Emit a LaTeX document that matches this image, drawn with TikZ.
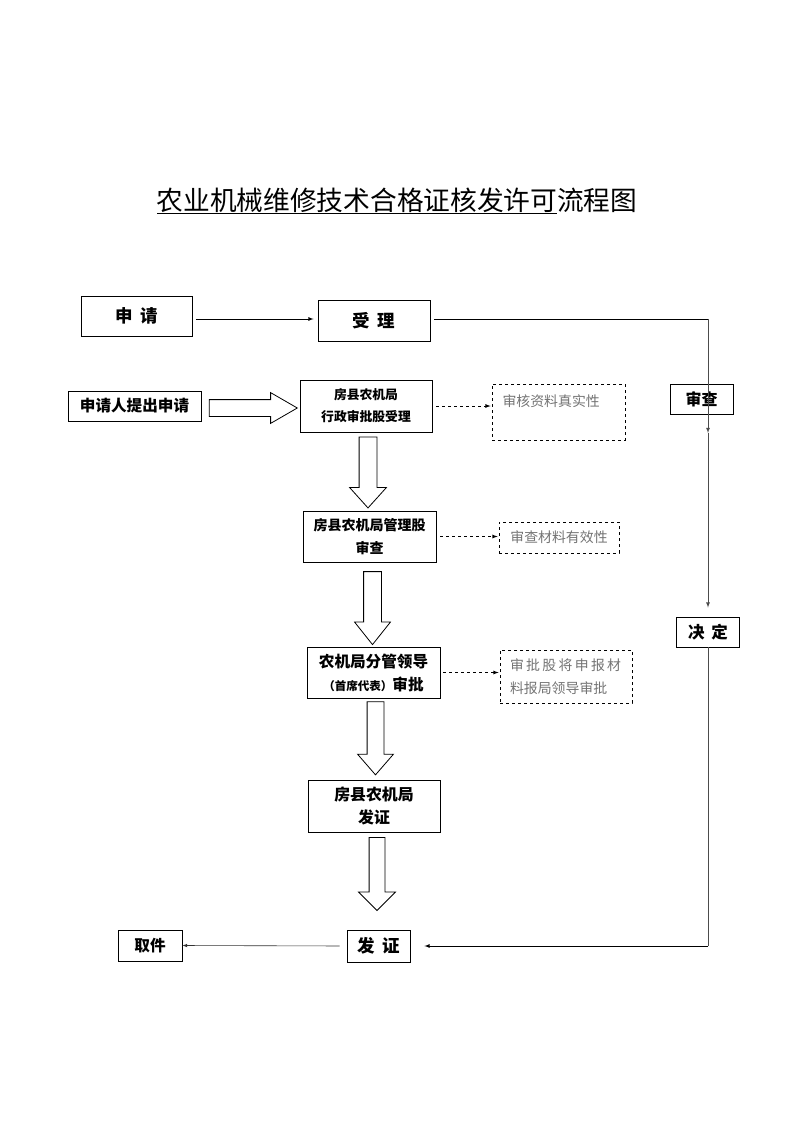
\documentclass[tikz,border=0pt]{standalone}
\usepackage{fontspec}
\setmainfont{Noto Sans CJK SC}
\usetikzlibrary{arrows}
\usetikzlibrary{shapes.arrows}

\begin{document}
\begin{tikzpicture}[x=1pt,y=-1pt]
            \tikzstyle{box}=[rectangle,draw=black,line width=0.9pt,inner sep=0pt,align=center]
            \tikzstyle{note}=[rectangle,draw=black,dashed,line width=0.8pt,inner sep=0pt,text=black!55,
                              font=\fontsize{13.9}{23}\selectfont]
            \tikzstyle{big}=[font=\bfseries\fontsize{17.5}{20}\selectfont]
            \tikzstyle{mid}=[font=\bfseries\fontsize{15.6}{23}\selectfont]
            \tikzstyle{small}=[font=\bfseries\fontsize{12.8}{22}\selectfont]
            \tikzstyle{hollow}=[single arrow,draw=black,line width=0.8pt,fill=white,inner xsep=0pt]
            \tikzstyle{edge}=[draw=black,line width=0.8pt,-latex]
            \tikzstyle{link}=[draw=black,dashed,line width=0.8pt,-latex]

            \useasboundingbox (0,0) rectangle (793,1122);

            % title
            \node[font=\fontsize{26.7}{30}\selectfont] (title) at (397,200) {农业机械维修技术合格证核发许可流程图};
            \draw[line width=0.9pt] (157,213) -- (557,213);

            % top row
            \node[box,big,minimum width=111,minimum height=40] (apply)  at (136.5,316) {申\hspace{0.45em}请};
            \node[box,big,minimum width=112,minimum height=41] (accept) at (374,320.5) {受\hspace{0.45em}理};

            % right column
            \node[box,mid,font=\bfseries\fontsize{16}{20}\selectfont,minimum width=63,minimum height=30]
                (check)  at (701.5,399) {审查};
            \node[box,mid,font=\bfseries\fontsize{16.5}{20}\selectfont,minimum width=63,minimum height=30]
                (decide) at (708,632)   {决\hspace{0.4em}定};
            \coordinate (corner) at (708,320.5);
            \coordinate (half)   at (708,433);
            \coordinate (low)    at (708,946);

            % main chain
            \node[box,mid,minimum width=133,minimum height=30] (applicant) at (134.5,406) {申请人提出申请};
            \node[box,small,minimum width=132,minimum height=52] (recv)   at (366,406)   {房县农机局\\行政审批股受理};
            \node[box,mid,font=\bfseries\fontsize{14}{23}\selectfont,minimum width=133,minimum height=51]
                (manage) at (369.5,536.5) {房县农机局管理股\\审查};
            \node[box,mid,minimum width=133,minimum height=51]   (leader) at (373.5,672.5)
                {农机局分管领导\\{\fontsize{11.5}{12}\selectfont （首席代表）}审批};
            \node[box,mid,font=\bfseries\fontsize{15.9}{23}\selectfont,minimum width=132,minimum height=52]
                (office) at (374,806) {房县农机局\\发证};
            \node[box,big,minimum width=63,minimum height=32]    (issue)  at (378.5,946) {发\hspace{0.45em}证};
            \node[box,mid,minimum width=64,minimum height=31]    (fetch)  at (150,945.5) {取件};

            % notes
            \node[note,minimum width=133,minimum height=56,text width=112,align=left] (verify) at (558.5,412)
                {审核资料真实性\\\mbox{}};
            \node[note,minimum width=120,minimum height=31] (valid) at (559,537.5) {审查材料有效性};
            \node[note,minimum width=132,minimum height=53,text width=112,align=left] (report) at (566,676.5)
                {审\hspace{2.3pt}批\hspace{2.3pt}股\hspace{2.3pt}将\hspace{2.3pt}申\hspace{2.3pt}报\hspace{2.3pt}材\\料报局领导审批};

            % hollow arrows
            \node[hollow,inner ysep=8pt,minimum height=88,single arrow head extend=7pt,single arrow tip angle=60]
                (h1) at (246,408) {};
            \node[hollow,rotate=-90,inner ysep=8.5pt,minimum height=71,single arrow head extend=9.5pt,single arrow tip angle=84]
                (v1) at (368,467.5) {};
            \node[hollow,rotate=-90,inner ysep=8.5pt,minimum height=73,single arrow head extend=9pt,single arrow tip angle=77]
                (v2) at (372.5,602.5) {};
            \node[hollow,rotate=-90,inner ysep=8pt,minimum height=73,single arrow head extend=9.5pt,single arrow tip angle=82]
                (v3) at (375.5,733.5) {};
            \node[hollow,rotate=-90,inner ysep=7.5pt,minimum height=73,single arrow head extend=10.5pt,single arrow tip angle=90]
                (v4) at (377,870) {};

            % connectors
            \path[edge,shorten <=4pt,shorten >=4pt] ([yshift=-3pt]apply.east) -- ([yshift=-3pt]apply.east -| accept.west);
            \path[draw=black,line width=0.8pt,shorten <=4pt] ([yshift=1.5pt]accept.east) -- ([yshift=1.5pt]corner);
            \path[edge,draw=black!70] ([yshift=1.5pt]corner) -- (half);
            \path[edge,draw=black!70,shorten >=9pt] (half) -- (decide.north);
            \path[draw=black!70,line width=0.8pt] (decide.south) -- (low);
            \path[edge,shorten >=14pt] (low) -- (issue.east);
            \path[edge,draw=black!80,line width=0.6pt,shorten <=7pt] (issue.west) -- (fetch.east);

            \path[link,shorten <=4pt,shorten >=1pt] (recv) -- (recv -| verify.west);
            \path[link,shorten <=4pt,shorten >=1pt] (manage) -- (manage -| valid.west);
            \path[link,shorten <=3pt,shorten >=1pt] (leader) -- (leader -| report.west);
        \end{tikzpicture}
\end{document}
